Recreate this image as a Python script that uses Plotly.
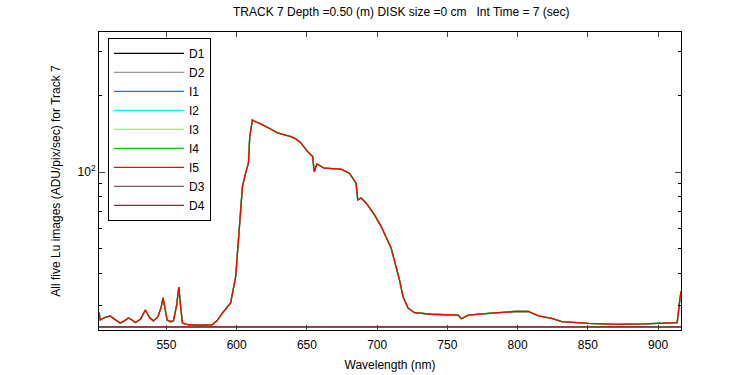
import plotly.graph_objects as go

# Wavelength (nm) and Lu signal (ADU/pix/sec)
wavelength = [502.1, 502.9, 506.0, 510.0, 513.5, 517.1, 520.0, 522.9, 525.5, 527.9, 531.5, 535.0,
              538.0, 540.7, 544.0, 546.3, 547.6, 549.0, 550.5, 553.0, 555.0, 557.3, 558.8, 560.0,
              561.4, 565.7, 574.0, 582.6, 586.0, 589.8, 595.7, 599.3, 601.6, 604.1, 606.4, 608.4,
              609.3, 611.2, 613.5, 615.9, 617.1, 623.1, 629.1, 633.5, 638.6, 642.1, 645.7, 650.5,
              654.1, 655.2, 657.1, 662.4, 668.0, 674.3, 680.2, 685.0, 686.2, 688.6, 692.1, 698.1,
              702.9, 710.0, 715.9, 718.4, 722.0, 726.6, 738.6, 757.6, 760.0, 764.8, 781.4, 798.1,
              807.6, 814.8, 824.3, 831.4, 850.5, 869.5, 890.0, 907.6, 913.6, 915.2, 915.9, 916.3]
lu_signal = [28.0, 26.2, 26.8, 27.2, 26.3, 25.5, 26.0, 26.7, 26.2, 25.6, 26.4, 28.7,
             26.8, 26.0, 27.0, 29.5, 32.0, 29.0, 26.2, 25.8, 26.0, 30.0, 35.3, 30.0,
             25.5, 25.1, 25.0, 25.1, 26.0, 27.9, 30.6, 38.8, 55.8, 87.8, 99.4, 108.8,
             138.0, 160.6, 158.0, 156.0, 155.0, 149.0, 142.8, 140.5, 138.0, 135.3, 130.4, 120.5,
             115.2, 100.5, 107.8, 103.7, 103.5, 102.8, 99.1, 90.5, 77.8, 79.2, 75.7, 67.9,
             61.1, 50.2, 37.7, 32.4, 29.2, 28.0, 27.6, 27.4, 26.5, 27.4, 27.9, 28.3,
             28.3, 27.2, 26.6, 25.8, 25.4, 25.2, 25.3, 25.4, 25.6, 30.6, 33.5, 34.0]

dark_wavelength = [502.1, 560.0, 620.0, 680.0, 740.0, 800.0, 860.0, 916.3]
dark_signal = [24.6, 24.6, 24.5, 24.6, 24.5, 24.6, 24.5, 24.6]

series_names = ["D1", "D2", "I1", "I2", "I3", "I4", "I5", "D3", "D4"]
series_colors = ["#000000", "#999999", "#1e78dc", "#00ffff", "#8ff08f", "#00cc00",
                 "#ff0000", "#805a64", "#803232"]
is_dark = [True, True, False, False, False, False, False, True, True]

y_minor = [30, 40, 50, 60, 70, 80, 90, 200, 300]
x_ticks = [550, 600, 650, 700, 750, 800, 850, 900]

fig = go.Figure()
for name, color, dark in zip(series_names, series_colors, is_dark):
    xs = dark_wavelength if dark else wavelength
    ys = dark_signal if dark else lu_signal
    fig.add_trace(go.Scatter(x=xs, y=ys, mode="lines", name=name,
                             line=dict(color=color, width=1.3)))

font = dict(family="Liberation Sans, Arial, sans-serif", size=12, color="#000000")

fig.update_layout(
    width=750, height=375,
    margin=dict(l=99, r=69, t=32, b=45, autoexpand=False),
    paper_bgcolor="white", plot_bgcolor="white",
    font=font,
    title=dict(text="TRACK 7 Depth =0.50 (m) DISK size =0 cm   Int Time = 7 (sec)",
               x=0.535, xanchor="center", y=0.968, yanchor="middle", font=dict(size=12)),
    legend=dict(x=0.0155, y=0.98, xanchor="left", yanchor="top",
                bordercolor="black", borderwidth=1, bgcolor="white",
                font=dict(size=12), tracegroupgap=0, itemwidth=70),
    showlegend=True,
)
fig.update_xaxes(
    range=[502.0, 916.3], tickvals=x_ticks, ticks="inside", ticklen=5,
    showline=True, linecolor="black", linewidth=1, mirror="ticks",
    showgrid=False, zeroline=False, tickfont=dict(size=12), automargin=False,
    ticklabelstandoff=4,
    title=dict(text="Wavelength (nm)", standoff=9, font=dict(size=12)),
)
fig.update_yaxes(
    type="log", range=[1.379, 2.552], tickvals=[100], ticktext=["10<sup>2</sup>"],
    ticks="inside", ticklen=6, showline=True, linecolor="black", linewidth=1,
    mirror="ticks", showgrid=False, zeroline=False, tickfont=dict(size=12), automargin=False,
    minor=dict(tickvals=y_minor, ticks="inside", ticklen=3, tickcolor="black", showgrid=False),
    title=dict(text="All five Lu images (ADU/pix/sec) for Track 7", standoff=14, font=dict(size=12)),
)

fig.write_html("out.html", config={"displayModeBar": False},
               post_script="document.body.style.margin='0px';")
